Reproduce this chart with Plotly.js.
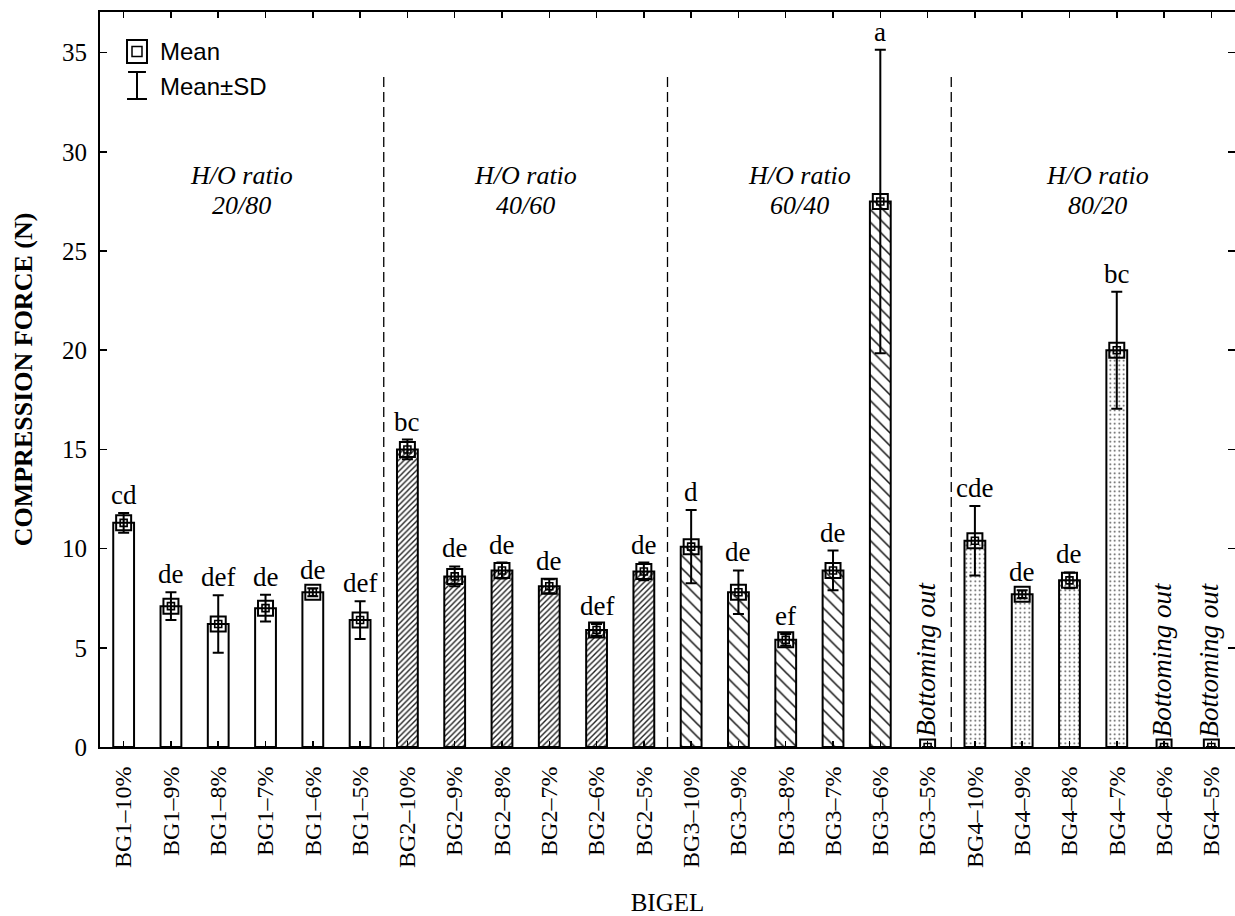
<!DOCTYPE html>
<html>
<head>
<meta charset="utf-8">
<script src="https://cdn.plot.ly/plotly-3.0.1.min.js"></script>
<style>html,body{margin:0;padding:0;background:#fff;}#chart{width:1235px;height:916px;}</style>
</head>
<body>
<div id="chart"></div>
<script>
// ---- data ----
const categories = [
  'BG1–10%','BG1–9%','BG1–8%','BG1–7%','BG1–6%','BG1–5%',
  'BG2–10%','BG2–9%','BG2–8%','BG2–7%','BG2–6%','BG2–5%',
  'BG3–10%','BG3–9%','BG3–8%','BG3–7%','BG3–6%','BG3–5%',
  'BG4–10%','BG4–9%','BG4–8%','BG4–7%','BG4–6%','BG4–5%'
];
const means = [11.3, 7.1, 6.2, 7.0, 7.8, 6.4,
               15.0, 8.6, 8.9, 8.1, 5.9, 8.85,
               10.1, 7.8, 5.4, 8.9, 27.5, 0,
               10.4, 7.7, 8.4, 20.0, 0, 0];
const sds = [0.5, 0.7, 1.45, 0.67, 0.2, 0.95,
             0.5, 0.5, 0.4, 0.35, 0.3, 0.45,
             1.85, 1.1, 0.3, 1.0, 7.65, 0,
             1.75, 0.2, 0.4, 2.95, 0, 0];
const letters = ['cd','de','def','de','de','def',
                 'bc','de','de','de','def','de',
                 'd','de','ef','de','a','',
                 'cde','de','de','bc','',''];
const groups = ['BG1','BG2','BG3','BG4'];
const ratioLabels = ['20/80','40/60','60/40','80/20'];
const bottomText = 'Bottoming out';

// ---- build ----
const SERIF = 'Liberation Serif, Times New Roman, serif';
const SANS = 'Liberation Sans, Arial, sans-serif';
const patterns = [
  {shape: '', fgcolor: 'black', bgcolor: 'white'},
  {shape: '/', size: 4, solidity: 0.35, fgcolor: '#222', bgcolor: 'white'},
  {shape: '\\', size: 9, solidity: 0.17, fgcolor: '#111', bgcolor: 'white'},
  {shape: '.', size: 4.5, solidity: 0.12, fgcolor: '#444', bgcolor: 'white'}
];

const traces = [];
groups.forEach((g, gi) => {
  const xs = [], ys = [];
  categories.forEach((c, i) => {
    if (c.startsWith(g) && means[i] > 0) { xs.push(c); ys.push(means[i]); }
  });
  traces.push({
    type: 'bar', x: xs, y: ys, width: 0.44,
    marker: {color: 'white', line: {color: 'black', width: 2}, pattern: patterns[gi]},
    hoverinfo: 'skip', showlegend: false
  });
});
traces.push({
  type: 'scatter', mode: 'markers', x: categories, y: means,
  marker: {symbol: 'square-open', size: 15, color: 'black', line: {width: 2, color: 'black'}},
  error_y: {type: 'data', array: sds, visible: true, color: 'black', thickness: 2, width: 5.5},
  cliponaxis: true, showlegend: false, hoverinfo: 'skip'
});
traces.push({
  type: 'scatter', mode: 'markers', x: categories, y: means,
  marker: {symbol: 'square-open', size: 7, color: 'black', line: {width: 1.6, color: 'black'}},
  cliponaxis: true, showlegend: false, hoverinfo: 'skip'
});

const annotations = [];
categories.forEach((c, i) => {
  if (letters[i]) {
    annotations.push({x: c, y: means[i] + sds[i], xref: 'x', yref: 'y', text: letters[i],
      showarrow: false, yanchor: 'bottom', yshift: 1, font: {family: SERIF, size: 27, color: 'black'}});
  }
  if (means[i] === 0) {
    annotations.push({x: i - 0.05, y: 0, xref: 'x', yref: 'y', text: '<i>' + bottomText + '</i>',
      showarrow: false, textangle: -90, yanchor: 'bottom', xanchor: 'center', yshift: 8,
      font: {family: SERIF, size: 27, color: 'black'}});
  }
});
const ratioPos = [2.5, 8.5, 14.3, 20.6];
ratioLabels.forEach((r, gi) => {
  annotations.push({x: ratioPos[gi], y: 28.8, xref: 'x', yref: 'y', text: '<i>H/O ratio</i>',
    showarrow: false, font: {family: SERIF, size: 26, color: 'black'}});
  annotations.push({x: ratioPos[gi], y: 27.3, xref: 'x', yref: 'y', text: '<i>' + r + '</i>',
    showarrow: false, font: {family: SERIF, size: 26, color: 'black'}});
});
// legend text
annotations.push({x: 0.051, y: 0.9456, xref: 'paper', yref: 'paper', text: 'Mean', xanchor: 'left', yanchor: 'middle',
  showarrow: false, font: {family: SANS, size: 24, color: 'black'}});
annotations.push({x: 0.051, y: 0.8993, xref: 'paper', yref: 'paper', text: 'Mean±SD', xanchor: 'left', yanchor: 'middle',
  showarrow: false, font: {family: SANS, size: 24, color: 'black'}});

const shapes = [];
[5.5, 11.5, 17.5].forEach(xv => {
  shapes.push({type: 'line', xref: 'x', yref: 'y', x0: xv, x1: xv, y0: 0, y1: 33.8,
    line: {color: 'black', width: 1.3, dash: '10px,5px'}});
});
// legend glyphs
shapes.push({type: 'rect', xref: 'paper', yref: 'paper', x0: 0.0238, x1: 0.0414, y0: 0.9306, y1: 0.9619,
  line: {color: 'black', width: 2}});
shapes.push({type: 'rect', xref: 'paper', yref: 'paper', x0: 0.0282, x1: 0.0370, y0: 0.9395, y1: 0.9530,
  line: {color: 'black', width: 1.5}});
shapes.push({type: 'line', xref: 'paper', yref: 'paper', x0: 0.0326, x1: 0.0326, y0: 0.8816, y1: 0.9184,
  line: {color: 'black', width: 2}});
shapes.push({type: 'line', xref: 'paper', yref: 'paper', x0: 0.0247, x1: 0.0405, y0: 0.9184, y1: 0.9184,
  line: {color: 'black', width: 2}});
shapes.push({type: 'line', xref: 'paper', yref: 'paper', x0: 0.0238, x1: 0.0414, y0: 0.8816, y1: 0.8816,
  line: {color: 'black', width: 2}});

const layout = {
  width: 1235, height: 916,
  margin: {l: 100, r: 0, t: 12, b: 169},
  paper_bgcolor: 'white', plot_bgcolor: 'white',
  showlegend: false, barmode: 'overlay',
  font: {family: SERIF, color: 'black'},
  xaxis: {
    type: 'category', categoryorder: 'array', categoryarray: categories,
    range: [-0.5, 23.5], tickangle: -90, ticks: 'inside', ticklen: 6, tickwidth: 1.5, tickcolor: 'black',
    mirror: 'ticks', showline: true, linewidth: 2, linecolor: 'black', showgrid: false, zeroline: false,
    tickfont: {family: SERIF, size: 24, color: 'black'}, ticklabelstandoff: 8,
    title: {text: 'BIGEL', font: {family: SERIF, size: 25, color: 'black'}, standoff: 30},
    automargin: false
  },
  yaxis: {
    range: [0, 37.05], dtick: 5, ticks: 'inside', ticklen: 7, tickwidth: 1.5, tickcolor: 'black',
    mirror: 'ticks', showline: true, linewidth: 2, linecolor: 'black', showgrid: false, zeroline: false,
    tickfont: {family: SERIF, size: 25, color: 'black'}, ticklabelstandoff: 6,
    title: {text: '<b>COMPRESSION FORCE (N)</b>', font: {family: SERIF, size: 26, color: 'black'}, standoff: 22},
    automargin: false
  },
  annotations: annotations,
  shapes: shapes
};

Plotly.newPlot('chart', traces, layout, {displayModeBar: false, staticPlot: true});
</script>
</body>
</html>
